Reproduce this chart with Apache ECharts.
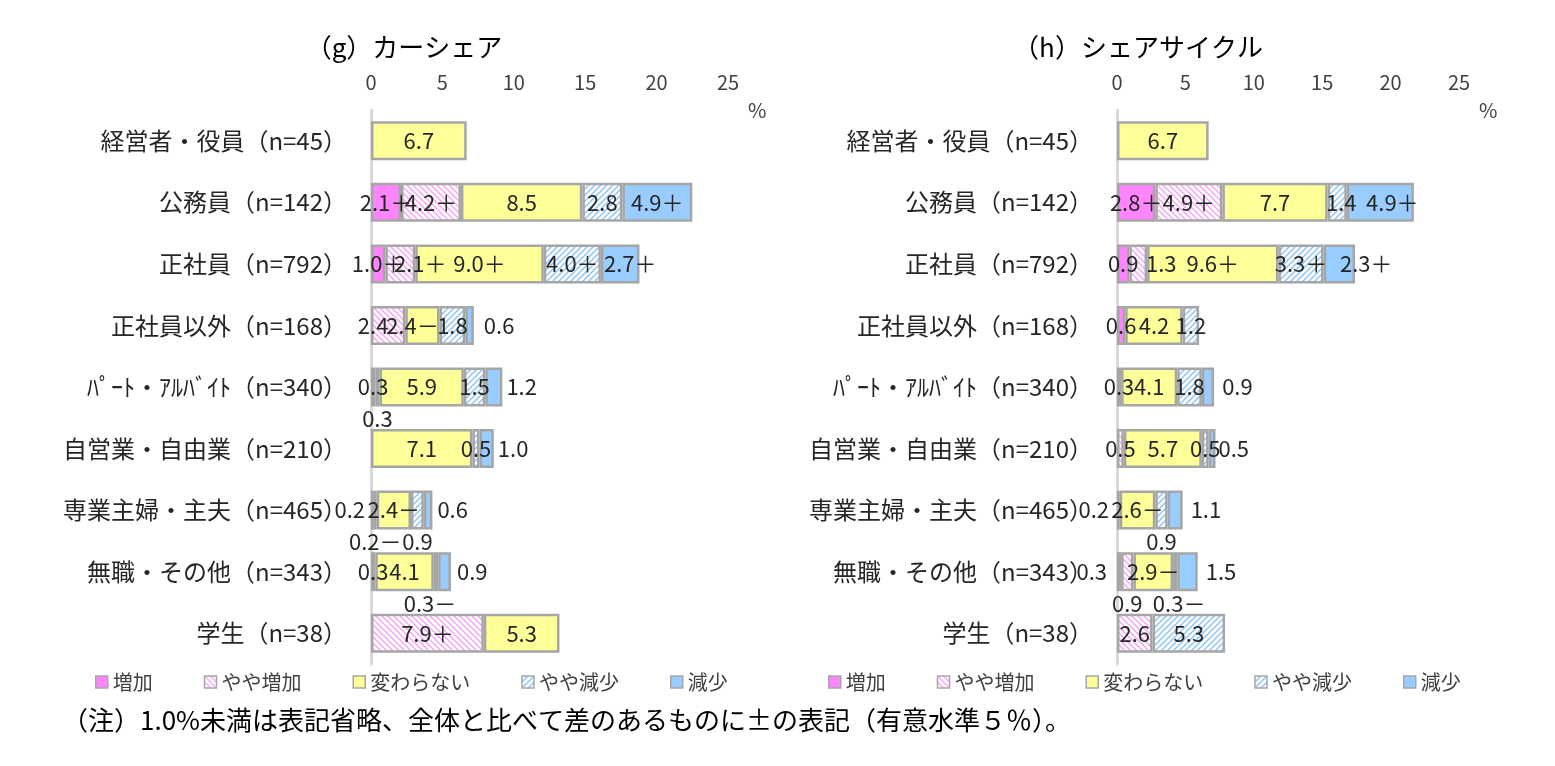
<!DOCTYPE html>
<html>
<head>
<meta charset="utf-8">
<script src="https://cdn.jsdelivr.net/npm/echarts@6/dist/echarts.min.js"></script>
<style>
html, body { margin: 0; padding: 0; background: #fff; }
#main { width: 1555px; height: 766px; }
</style>
</head>
<body>
<div id="main"></div>
<script>
// カテゴリ・系列名
var categories = ['経営者・役員（n=45）', '公務員（n=142）', '正社員（n=792）', '正社員以外（n=168）',
  'ﾊﾟｰﾄ・ｱﾙﾊﾞｲﾄ（n=340）', '自営業・自由業（n=210）', '専業主婦・主夫（n=465）', '無職・その他（n=343）', '学生（n=38）'];
var seriesNames = ['増加', 'やや増加', '変わらない', 'やや減少', '減少'];
var axisTicks = [0, 5, 10, 15, 20, 25];

// (g) カーシェア
var carIncrease   = [0, 2.1, 1.0, 0,   0.3, 0,   0.2, 0,   0];
var carSlightInc  = [0, 4.2, 2.1, 2.4, 0.3, 0,   0.2, 0.3, 7.9];
var carSame       = [6.7, 8.5, 9.0, 2.4, 5.9, 7.1, 2.4, 4.1, 5.3];
var carSlightDec  = [0, 2.8, 4.0, 1.8, 1.5, 0.5, 0.9, 0.3, 0];
var carDecrease   = [0, 4.9, 2.7, 0.6, 1.2, 1.0, 0.6, 0.9, 0];
var carMarks = [
  ['', '＋', '＋', '', '', '', '', '', ''],
  ['', '＋', '＋', '', '', '', '－', '', '＋'],
  ['', '', '＋', '－', '', '', '－', '', ''],
  ['', '', '＋', '', '', '', '', '－', ''],
  ['', '＋', '＋', '', '', '', '', '', '']
];

// (h) シェアサイクル
var cycIncrease   = [0, 2.8, 0.9, 0.6, 0,   0,   0,   0.3, 0];
var cycSlightInc  = [0, 4.9, 1.3, 0,   0.3, 0.5, 0.2, 0.9, 2.6];
var cycSame       = [6.7, 7.7, 9.6, 4.2, 4.1, 5.7, 2.6, 2.9, 0];
var cycSlightDec  = [0, 1.4, 3.3, 1.2, 1.8, 0.5, 0.9, 0.3, 5.3];
var cycDecrease   = [0, 4.9, 2.3, 0,   0.9, 0.5, 1.1, 1.5, 0];
var cycMarks = [
  ['', '＋', '', '', '', '', '', '', ''],
  ['', '＋', '', '', '', '', '', '', ''],
  ['', '', '＋', '', '', '', '－', '－', ''],
  ['', '', '＋', '', '', '', '', '－', ''],
  ['', '＋', '＋', '', '', '', '', '', '']
];

// ラベル位置の個別指定 (系列番号-カテゴリ番号): [位置, 距離, 横ずらし]
var carLabelPos = {
  '1-2': ['inside', 0, 20], '4-2': ['inside', 0, 10],
  '1-3': ['inside', 0, -15], '2-3': ['inside', 0, -10],
  '1-4': ['bottom', 1, 0], '0-6': ['left', 6, 0], '1-6': ['bottom', 1, 0], '3-6': ['bottom', 1, 0],
  '3-7': ['bottom', 1, -6], '4-3': ['right', 10, 0], '4-4': ['right', 4, 0], '4-5': ['right', 4, 0],
  '4-6': ['right', 5, 0], '4-7': ['right', 6, 0]
};
var cycLabelPos = {
  '3-1': ['inside', 0, 4], '4-1': ['inside', 0, 12],
  '1-2': ['inside', 0, 23], '4-2': ['inside', 0, 27],
  '1-6': ['left', 8, 0], '3-6': ['bottom', 1, 0], '0-7': ['left', 10, 0], '1-7': ['bottom', 1, 0],
  '3-7': ['bottom', 1, 4], '4-4': ['right', 8, 0], '4-5': ['right', 3, 0], '4-6': ['right', 8, 0], '4-7': ['right', 8, 0]
};

var FONT = '"Noto Sans CJK JP", "Noto Sans", sans-serif';

function hatch(color, slash) {
  var s = 6;
  var c = document.createElement('canvas');
  c.width = s; c.height = s;
  var ctx = c.getContext('2d');
  ctx.fillStyle = '#fff';
  ctx.fillRect(0, 0, s, s);
  ctx.strokeStyle = color;
  ctx.lineWidth = 1.5;
  ctx.beginPath();
  if (slash) {
    ctx.moveTo(-s, s); ctx.lineTo(s, -s);
    ctx.moveTo(0, s); ctx.lineTo(s, 0);
    ctx.moveTo(0, 2 * s); ctx.lineTo(2 * s, 0);
  } else {
    ctx.moveTo(-s, 0); ctx.lineTo(s, 2 * s);
    ctx.moveTo(0, 0); ctx.lineTo(s, s);
    ctx.moveTo(0, -s); ctx.lineTo(2 * s, s);
  }
  ctx.stroke();
  return { image: c, repeat: 'repeat' };
}

var fills = ['#ff85ff', hatch('#f5a6f5', false), '#ffff99', hatch('#8fc4f5', true), '#99ccff'];

function buildSeries(stack, idx, valuesList, marksList, pos) {
  return seriesNames.map(function (name, si) {
    return {
      name: name, type: 'bar', stack: stack, xAxisIndex: idx, yAxisIndex: idx,
      barWidth: 39,
      itemStyle: { color: fills[si], borderColor: '#a6a6a6', borderWidth: 2.5 },
      label: { show: true, position: 'inside', color: '#262626', fontSize: 22, fontFamily: FONT },
      data: valuesList[si].map(function (v, i) {
        if (!v) return { value: null, label: { show: false } };
        var item = { value: v, label: { formatter: v.toFixed(1) + marksList[si][i] } };
        var p = pos[si + '-' + i];
        if (p) {
          item.label.position = p[0];
          item.label.distance = p[1];
          item.label.offset = [p[2], 0];
        }
        return item;
      })
    };
  });
}

function xAxisOf(idx) {
  return {
    gridIndex: idx, type: 'value', position: 'top',
    min: axisTicks[0], max: axisTicks[axisTicks.length - 1], interval: axisTicks[1] - axisTicks[0],
    axisLine: { show: false }, axisTick: { show: false }, splitLine: { show: false },
    axisLabel: { fontSize: 20, color: '#404040', margin: 18, fontFamily: FONT },
    name: '%', nameLocation: 'end', nameGap: 20,
    nameTextStyle: { fontSize: 20, color: '#404040', fontFamily: FONT }
  };
}

function yAxisOf(idx) {
  return {
    gridIndex: idx, type: 'category', inverse: true, data: categories,
    axisLine: { lineStyle: { color: '#d9d9d9', width: 3 } },
    axisTick: { show: false },
    axisLabel: { fontSize: 24, color: '#262626', margin: 24, fontFamily: FONT }
  };
}

function legendOf(left) {
  return {
    data: seriesNames, left: left, top: 667, icon: 'rect',
    itemWidth: 12, itemHeight: 12, itemGap: 51,
    itemStyle: { borderColor: '#a6a6a6', borderWidth: 1.5 },
    textStyle: { fontSize: 20, color: '#404040', fontFamily: FONT },
    selectedMode: false
  };
}

var chart = echarts.init(document.getElementById('main'));
chart.setOption({
  animation: false,
  backgroundColor: '#fff',
  textStyle: { fontFamily: FONT },
  grid: [
    { left: 371, width: 357, top: 110, height: 554 },
    { left: 1117, width: 342, top: 110, height: 554 }
  ],
  xAxis: [xAxisOf(0), xAxisOf(1)],
  yAxis: [yAxisOf(0), yAxisOf(1)],
  legend: [legendOf(90), legendOf(823)],
  graphic: [
    { type: 'text', x: 404, y: 47, style: { text: '（g）カーシェア', font: '26px ' + FONT, fill: '#000', textAlign: 'center', textVerticalAlign: 'middle' } },
    { type: 'text', x: 1138, y: 47, style: { text: '（h）シェアサイクル', font: '26px ' + FONT, fill: '#000', textAlign: 'center', textVerticalAlign: 'middle' } },
    { type: 'text', x: 62, y: 720, style: { text: '（注）1.0%未満は表記省略、全体と比べて差のあるものに±の表記（有意水準５％）。', font: '26px ' + FONT, fill: '#000', textVerticalAlign: 'middle' } }
  ],
  series: buildSeries('g', 0, [carIncrease, carSlightInc, carSame, carSlightDec, carDecrease], carMarks, carLabelPos)
    .concat(buildSeries('h', 1, [cycIncrease, cycSlightInc, cycSame, cycSlightDec, cycDecrease], cycMarks, cycLabelPos))
});
</script>
</body>
</html>
